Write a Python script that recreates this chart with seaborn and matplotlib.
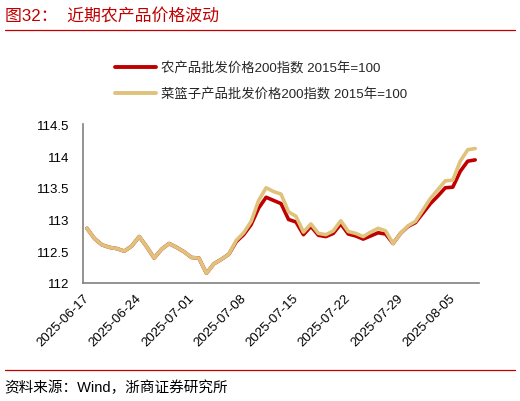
import matplotlib
matplotlib.use('Agg')
import matplotlib.pyplot as plt
import matplotlib.dates as mdates
from matplotlib.lines import Line2D
import numpy as np
import pandas as pd
import seaborn as sns

# 数据（日度，2025-06-17 至 2025-08-08）
fechas = pd.date_range('2025-06-17', '2025-08-08', freq='D')
agri200 = [112.86, 112.70, 112.60, 112.56, 112.54, 112.50, 112.58, 112.73, 112.57, 112.39,
           112.53, 112.62, 112.56, 112.49, 112.40, 112.39, 112.15, 112.30, 112.37, 112.45,
           112.65, 112.76, 112.92, 113.18, 113.35, 113.30, 113.25, 113.00, 112.96, 112.76,
           112.89, 112.75, 112.73, 112.78, 112.93, 112.77, 112.74, 112.69, 112.74, 112.79,
           112.77, 112.62, 112.78, 112.89, 112.95, 113.10, 113.25, 113.37, 113.50, 113.51,
           113.76, 113.92, 113.94]
cesta200 = [112.86, 112.70, 112.60, 112.56, 112.54, 112.50, 112.58, 112.73, 112.57, 112.39,
            112.53, 112.62, 112.56, 112.49, 112.40, 112.39, 112.15, 112.30, 112.37, 112.45,
            112.67, 112.79, 112.97, 113.30, 113.50, 113.44, 113.40, 113.12, 113.05, 112.80,
            112.93, 112.78, 112.76, 112.82, 112.98, 112.81, 112.78, 112.73, 112.80, 112.86,
            112.82, 112.62, 112.78, 112.90, 112.97, 113.15, 113.33, 113.47, 113.61, 113.62,
            113.92, 114.10, 114.12]
series = ['农产品批发价格200指数 2015年=100', '菜篮子产品批发价格200指数 2015年=100']
colores = ['#C00000', '#DFC27C']
ticks_x = pd.date_range('2025-06-17', '2025-08-05', freq='7D')
ticks_y = [112, 112.5, 113, 113.5, 114, 114.5]
etiquetas_y = ['112', '112.5', '113', '113.5', '114', '114.5']

df = pd.DataFrame({'fecha': np.tile(fechas, 2),
                   'valor': agri200 + cesta200,
                   'serie': np.repeat(series, len(fechas))})

sns.set_style('white')
plt.rcParams['font.family'] = ['Liberation Sans', 'Noto Sans CJK SC', 'DejaVu Sans']

fig = plt.figure(figsize=(5.2, 4.02), dpi=100)
ax = fig.add_axes([0.160, 0.294, 0.761, 0.394])

sns.lineplot(data=df, x='fecha', y='valor', hue='serie', hue_order=series,
             palette=colores, linewidth=2.6, ax=ax, legend=False)

ax.set_xlim(pd.Timestamp('2025-06-16 12:00'), pd.Timestamp('2025-08-08 12:00'))
ax.set_ylim(112, 114.5)
ax.set_xticks(ticks_x - pd.Timedelta(hours=12))
ax.set_xticklabels([t.strftime('%Y-%m-%d') for t in ticks_x])
ax.set_yticks(ticks_y)
ax.set_yticklabels(etiquetas_y)
ax.set_xlabel('')
ax.set_ylabel('')
for lado in ['top', 'right']:
    ax.spines[lado].set_visible(False)
for lado in ['left', 'bottom']:
    ax.spines[lado].set_color('#808080')
    ax.spines[lado].set_linewidth(1.2)
ax.tick_params(axis='both', direction='out', length=4, width=1, color='#404040',
               labelsize=9.5, labelcolor='black', pad=2)
ax.tick_params(axis='y', pad=6)
plt.setp(ax.get_xticklabels(), rotation=45, ha='right', rotation_mode='anchor')

# Leyenda
handles = [Line2D([0], [0], color=c, lw=2.8) for c in colores]
ax.legend(handles, series, loc='upper left', bbox_to_anchor=(0.208, 0.862),
          bbox_transform=fig.transFigure, frameon=False, fontsize=9.6,
          handlelength=3.1, handletextpad=0.35, labelspacing=1.0, borderpad=0)

# Título y fuente
fig.text(0.009, 0.962, '图32：  近期农产品价格波动', color='#C00000', fontsize=12.2,
         va='center', ha='left')
fig.add_artist(Line2D([0.01, 0.99], [0.923, 0.923], color='#C00000', lw=0.9,
                      transform=fig.transFigure))
fig.add_artist(Line2D([0.01, 0.99], [0.077, 0.077], color='#C00000', lw=0.9,
                      transform=fig.transFigure))
fig.text(0.009, 0.036, '资料来源：Wind，浙商证券研究所', color='black', fontsize=10.5,
         va='center', ha='left')

plt.savefig('out.png', dpi=100)
plt.close()
